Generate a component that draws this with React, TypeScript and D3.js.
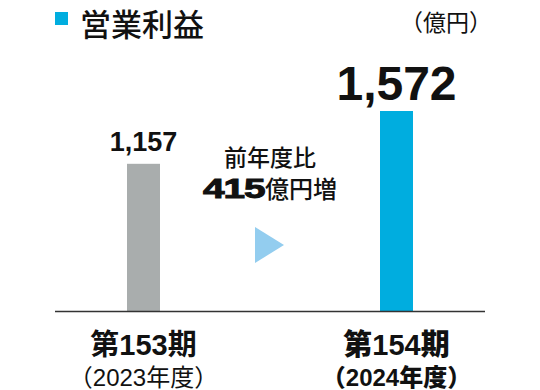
import React from "react";
import * as d3 from "d3";

const periods = ["第153期", "第154期"];
const years = ["（2023年度）", "（2024年度）"];
const values = [1157, 1572];
const barColors = ["#a9adad", "#00addf"];
const title = "営業利益";
const unit = "（億円）";
const diffCaption = "前年度比";
const diffValue = 415;
const diffUnit = "億円増";

const W = 540;
const H = 390;
const FONT = "'Liberation Sans', Arial, 'Noto Sans CJK JP', sans-serif";
const JP = "'Noto Sans CJK JP', sans-serif";

export default function App() {
  const x = d3.scalePoint<string>().domain(periods).range([143.5, 396.5]);
  const y = d3.scaleLinear().domain([0, 1572]).range([311, 111]);
  const barW = 33;
  const fmt = d3.format(",");
  const tri = d3.line()([
    [255, 227],
    [284, 245],
    [255, 263],
  ]) + "Z";

  return (
    <svg
      width={W}
      height={H}
      style={{ position: "absolute", left: 0, top: 0, background: "#fff" }}
    >
      <rect x={55} y={12} width={13} height={13} fill="#00addf" />
      <text x={80} y={36} fontFamily={JP} fontSize={31} fontWeight={500} fill="#111">
        {title}
      </text>
      <text x={492} y={31} textAnchor="end" fontFamily={JP} fontSize={23} fill="#111">
        {unit}
      </text>

      {periods.map((p, i) => (
        <g key={p}>
          <rect
            x={(x(p) as number) - barW / 2}
            y={y(values[i])}
            width={barW}
            height={y(0) - y(values[i])}
            fill={barColors[i]}
          />
          <text
            x={x(p)}
            y={y(values[i]) - (i === 0 ? 13 : 11)}
            textAnchor="middle"
            fontFamily={FONT}
            fontWeight="bold"
            fontSize={i === 0 ? 27 : 48}
            fill="#111"
          >
            {fmt(values[i])}
          </text>
          <text
            x={x(p)}
            y={355}
            textAnchor="middle"
            fontFamily={FONT}
            fontSize={29}
            fill="#111"
            style={{ fontWeight: i === 0 ? 600 : 800 }}
          >
            {p}
          </text>
          <text
            x={x(p)}
            y={386}
            textAnchor="middle"
            fontFamily={FONT}
            fontSize={24}
            fill="#111"
            style={{ fontWeight: i === 0 ? 400 : 800 }}
          >
            {years[i]}
          </text>
        </g>
      ))}

      <line x1={55} x2={485} y1={311.5} y2={311.5} stroke="#333" strokeWidth={1.5} />

      <text x={270} y={166} textAnchor="middle" fontFamily={JP} fontSize={23} fontWeight={500} fill="#111">
        {diffCaption}
      </text>
      <text
        transform="translate(203,197.5) scale(1.36,1)"
        fontFamily={FONT}
        fontSize={28.5}
        fontWeight="bold"
        fill="#111"
        stroke="#111"
        strokeWidth={1}
        letterSpacing={-0.8}
      >
        {String(diffValue)}
      </text>
      <text x={265} y={198} fontFamily={JP} fontSize={24} fontWeight={500} fill="#111">
        {diffUnit}
      </text>

      <path d={tri} fill="#93cdef" />
    </svg>
  );
}
